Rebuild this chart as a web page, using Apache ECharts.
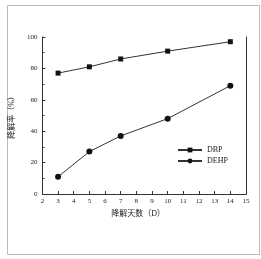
<!DOCTYPE html>
<html><head><meta charset="utf-8">
<script src="https://cdn.jsdelivr.net/npm/echarts@6/dist/echarts.min.js"></script>
<style>html,body{margin:0;padding:0;background:#fff}#c{width:261px;height:259px}</style>
</head><body><div id="c"></div>
<script>
const days = [3, 5, 7, 10, 14];
const dbp = [77, 81, 86, 91, 97];
const dehp = [11, 27, 37, 48, 69];
const seriesNames = ['DBP', 'DEHP'];
const xTitle = '降解天数（D）';
const yTitle = '降解率（%）';

const chart = echarts.init(document.getElementById('c'), null, {renderer: 'canvas'});
const serif = '"Liberation Serif", "Noto Sans CJK SC", serif';
const axisCommon = {
  axisLine: {show: true, onZero: false, lineStyle: {color: '#333', width: 1}},
  axisTick: {show: true, inside: true, length: 3, lineStyle: {color: '#333'}},
  axisLabel: {fontFamily: serif, fontSize: 7, color: '#222'},
  splitLine: {show: false}
};
chart.setOption({
  animation: false,
  graphic: [{
    type: 'rect', left: 5, top: 3, shape: {width: 252, height: 249},
    style: {fill: 'none', stroke: '#bbb', lineWidth: 1}, silent: true
  }],
  grid: {left: 34, top: 37, right: 15, bottom: 65},
  legend: {
    data: seriesNames, orient: 'vertical', left: 172, top: 141,
    itemWidth: 24, itemHeight: 6, itemGap: 3,
    textStyle: {fontFamily: serif, fontSize: 8, color: '#222'}
  },
  xAxis: [Object.assign({}, axisCommon, {
    type: 'value', min: 2, max: 15, interval: 1,
    name: xTitle, nameLocation: 'middle', nameGap: 15,
    nameTextStyle: {fontFamily: serif, fontSize: 8, color: '#222', padding: [0, 0, 0, -12]},
    axisLabel: Object.assign({}, axisCommon.axisLabel, {margin: 4})
  }), {
    type: 'value', position: 'top', min: 2, max: 15,
    axisLine: {show: true, lineStyle: {color: '#333'}}, axisTick: {show: false},
    axisLabel: {show: false}, splitLine: {show: false}
  }],
  yAxis: [Object.assign({}, axisCommon, {
    type: 'value', min: 0, max: 100, interval: 20,
    name: yTitle, nameLocation: 'middle', nameGap: 16, nameRotate: 90,
    nameTextStyle: {fontFamily: serif, fontSize: 8, color: '#222'},
    minorTick: {show: true, splitNumber: 2, length: 2, lineStyle: {color: '#333'}},
    axisLabel: Object.assign({}, axisCommon.axisLabel, {margin: 5})
  }), {
    type: 'value', position: 'right', min: 0, max: 100,
    axisLine: {show: true, lineStyle: {color: '#333'}}, axisTick: {show: false},
    axisLabel: {show: false}, splitLine: {show: false}
  }],
  series: [{
    name: seriesNames[0], type: 'line', symbol: 'rect', symbolSize: 5,
    data: days.map((d, i) => [d, dbp[i]]),
    lineStyle: {color: '#333', width: 1}, itemStyle: {color: '#111'}
  }, {
    name: seriesNames[1], type: 'line', symbol: 'circle', symbolSize: 6,
    data: days.map((d, i) => [d, dehp[i]]),
    lineStyle: {color: '#333', width: 1}, itemStyle: {color: '#111'}
  }]
});
</script></body></html>
